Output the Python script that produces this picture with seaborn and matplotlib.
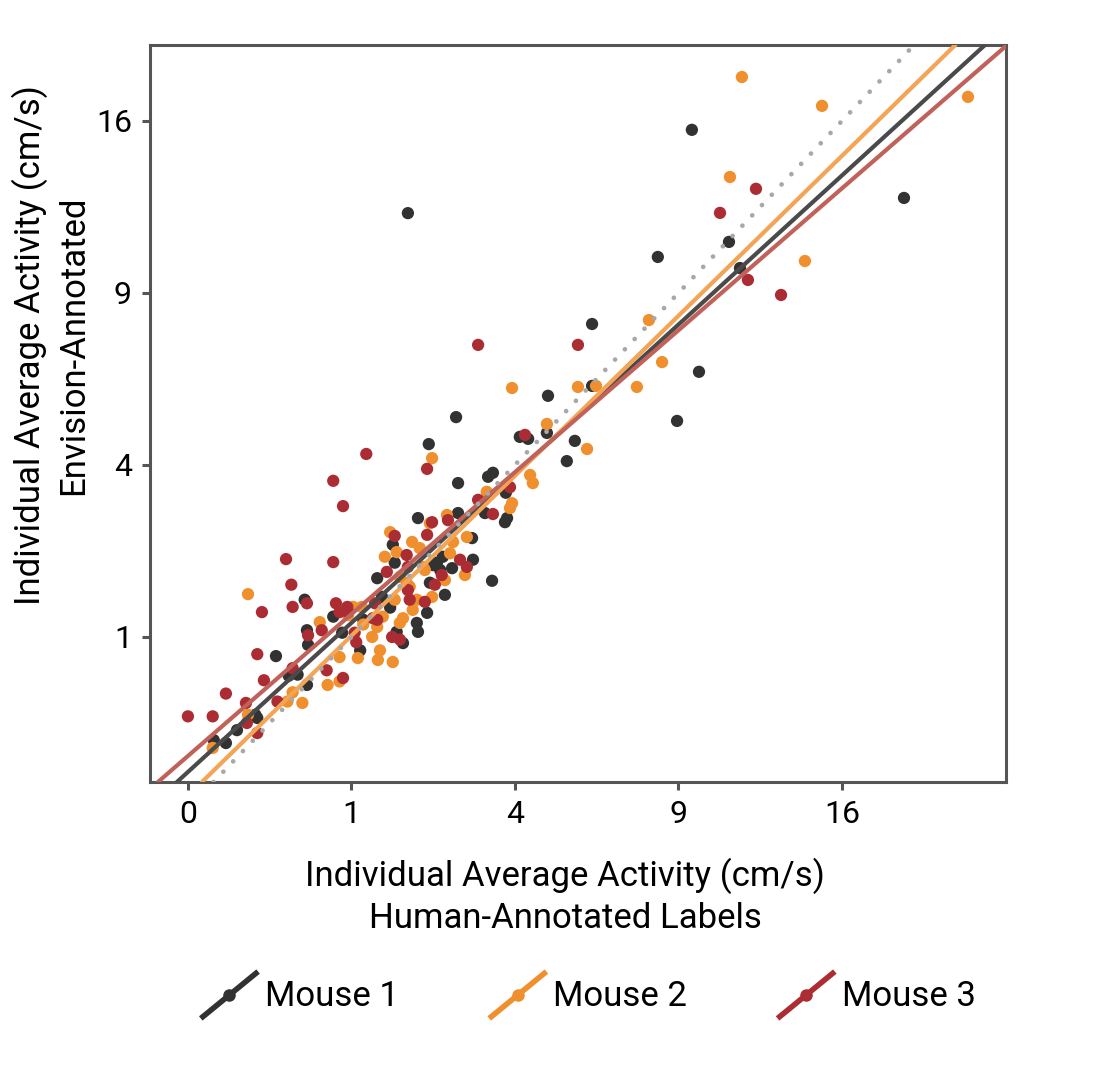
import matplotlib

matplotlib.use("Agg")
import matplotlib.pyplot as plt
import numpy as np
import pandas as pd
import seaborn as sns
from matplotlib.legend_handler import HandlerBase
from matplotlib.lines import Line2D

# values in cm/s
m1_human = [1.81, 9.50, 19.18, 8.26, 10.95, 11.40, 6.11, 9.77, 8.95, 4.85, 2.69, 2.17, 5.37, 5.60, 6.11,
            4.12, 4.33, 4.82, 2.73, 3.37, 3.48, 3.78, 3.81, 2.73, 3.76, 3.46, 1.98, 0.51, 0.53, 0.29,
            0.54, 0.45, 0.18, 0.09, 0.054, 0.53, 0.17, 1.34, 1.41, 1.53, 1.60, 1.57, 0.79, 0.89, 1.11,
            1.98, 1.73, 1.96, 1.63, 2.14, 2.25, 2.43, 2.61, 3.04, 3.02, 2.47, 2.19, 1.15, 2.38, 0.38, 0.025,
            3.30, 2.32]
m1_envision = [12.0, 15.59, 12.62, 10.30, 10.87, 9.89, 7.95, 6.46, 5.09, 5.77, 5.19, 4.50, 4.09, 4.58, 6.05,
               4.68, 4.63, 4.78, 3.59, 3.73, 3.82, 3.38, 2.86, 2.96, 2.78, 1.76, 2.86, 1.48, 1.08, 0.79,
               0.91, 0.61, 0.28, 0.21, 0.147, 0.52, 0.30, 1.80, 1.52, 1.37, 2.05, 2.36, 1.25, 1.05, 0.85,
               1.06, 0.93, 1.17, 1.06, 1.30, 2.01, 2.15, 1.96, 2.10, 2.48, 1.55, 1.73, 1.21, 1.93, 0.60, 0.16,
               2.96, 2.05]

m2_human = [11.48, 15.04, 22.76, 10.99, 14.24, 7.95, 8.41, 7.54, 5.69, 6.23, 3.93, 4.82, 5.96, 2.23, 4.38,
            4.45, 3.93, 3.88, 3.34, 2.51, 0.135, 0.49, 0.023, 0.135, 0.37, 0.41, 0.65, 1.08, 1.35, 1.57,
            0.73, 0.86, 1.53, 1.88, 1.63, 2.10, 1.73, 1.96, 1.15, 1.34, 2.19, 2.63, 2.57, 2.87, 2.47,
            2.07, 1.79, 1.89, 1.68, 1.42, 1.27, 1.60, 2.23, 1.38, 1.13, 0.96, 2.91,
            1.84, 1.02, 0.86, 2.01, 1.45, 1.68]
m2_envision = [18.11, 16.71, 17.14, 13.50, 10.15, 8.08, 6.75, 6.02, 6.02, 6.05, 5.99, 5.01, 4.38, 4.16, 3.77,
               3.59, 3.16, 3.06, 3.40, 2.92, 1.56, 0.38, 0.126, 0.30, 0.39, 0.46, 1.18, 0.77, 0.75, 0.73,
               0.52, 0.55, 2.59, 2.41, 2.23, 1.93, 1.23, 1.48, 1.15, 1.12, 2.76, 2.41, 2.21, 1.85, 1.77,
               1.98, 1.73, 1.34, 1.17, 1.25, 1.00, 1.48, 1.52, 0.85, 1.38, 1.27, 2.50,
               1.67, 1.38, 0.78, 2.30, 2.15, 1.82]

m3_human = [12.07, 10.59, 11.73, 13.16, 3.15, 5.69, 2.14, 3.88, 3.48, 4.25, 1.19, 0.79, 0.90, 0.79, 0.53,
            0.36, 0.40, 0.205, 0.41, 0.18, 0.054, 0.0, 0.023, 0.126, 0.216, 0.30, 0.18, 0.13, 0.41, 0.72,
            0.90, 0.54, 0.86, 0.95, 1.06, 1.48, 1.79, 1.56, 1.28, 2.28, 2.10, 2.53, 1.60, 2.14, 2.77,
            2.91, 2.41, 1.84, 1.34, 0.96, 0.82,
            2.23, 3.15, 1.31, 0.67, 1.68, 1.04, 1.81, 1.81]
m3_envision = [13.0, 12.01, 9.46, 8.93, 7.28, 7.28, 3.91, 3.50, 2.94, 4.73, 4.26, 3.64, 3.10, 2.06, 1.43,
               2.11, 1.70, 1.31, 1.38, 0.81, 0.45, 0.29, 0.29, 0.38, 0.56, 0.39, 0.195, 0.25, 0.67, 0.65,
               0.58, 1.02, 1.31, 1.38, 0.94, 1.90, 2.18, 1.00, 1.23, 1.70, 1.45, 2.82, 2.52, 2.54, 2.10,
               1.98, 1.85, 1.48, 1.21, 1.31, 1.43,
               2.78, 3.23, 1.43, 1.08, 0.97, 1.05, 1.98, 1.62]

mice = ["Mouse 1", "Mouse 2", "Mouse 3"]
# regression fits in sqrt space: sqrt(envision) = a + b * sqrt(human)
fit_intercept = [0.215, 0.077, 0.308]
fit_slope = [0.867, 0.930, 0.825]

ticks = [0, 1, 4, 9, 16]

point_colors = ["#323232", "#ef8f2e", "#ab2d33"]
line_colors = ["#4a4a4a", "#f3a455", "#c0625a"]


def fwd(v):
    return np.sign(v) * np.sqrt(np.abs(v))


def inv(v):
    return np.sign(v) * v ** 2


class DiagonalHandler(HandlerBase):
    def create_artists(self, legend, orig_handle, xdescent, ydescent, width, height, fontsize, trans):
        x0, y0 = -xdescent, -ydescent
        line = Line2D([x0, x0 + width], [y0, y0 + height], color=orig_handle.get_color(),
                      lw=orig_handle.get_linewidth(), solid_capstyle="butt")
        dot = Line2D([x0 + width / 2], [y0 + height / 2], marker="o", lw=0,
                     ms=orig_handle.get_markersize(), color=orig_handle.get_markerfacecolor())
        line.set_transform(trans)
        dot.set_transform(trans)
        return [line, dot]


df = pd.concat([
    pd.DataFrame({"human": m1_human, "envision": m1_envision, "mouse": mice[0]}),
    pd.DataFrame({"human": m2_human, "envision": m2_envision, "mouse": mice[1]}),
    pd.DataFrame({"human": m3_human, "envision": m3_envision, "mouse": mice[2]}),
], ignore_index=True)

sns.set_style("white")
plt.rcParams["font.family"] = ["Roboto", "DejaVu Sans"]
plt.rcParams["text.color"] = "black"
plt.rcParams["axes.labelcolor"] = "black"
plt.rcParams["xtick.labelcolor"] = "black"
plt.rcParams["ytick.labelcolor"] = "black"

fig = plt.figure(figsize=(10.94, 10.68), dpi=100)
ax = fig.add_axes([0.1371, 0.2678, 0.7824, 0.6901])
ax.set_xscale("function", functions=(fwd, inv))
ax.set_yscale("function", functions=(fwd, inv))

sns.scatterplot(data=df, x="human", y="envision", hue="mouse", palette=point_colors,
                s=78, linewidth=0, legend=False, ax=ax, zorder=2)

ax.set_xlim(-0.0538, 25.03)
ax.set_ylim(0.0246, 19.73)

for a, b, c in zip(fit_intercept, fit_slope, line_colors):
    ax.axline((0, inv(a)), (16, inv(a + 4 * b)), color=c, lw=3.0, zorder=3)
ax.axline((1, 1), (16, 16), color="#a8a8a8", lw=3.4, linestyle=(0, (0.01, 3.0)),
          dash_capstyle="round", zorder=3)

ax.set_xticks(ticks)
ax.set_xticklabels([str(t) for t in ticks])
ax.set_yticks(ticks[1:])
ax.set_yticklabels([str(t) for t in ticks[1:]])
ax.tick_params(axis="both", direction="out", length=6, width=2.2, color="#555555",
               labelsize=23, pad=7, bottom=True, left=True)
for sp in ax.spines.values():
    sp.set_color("#555555")
    sp.set_linewidth(2.2)

ax.set_xlabel("Individual Average Activity (cm/s)\nHuman-Annotated Labels", fontsize=25,
              va="center", linespacing=1.34)
ax.xaxis.set_label_coords(0.485, -0.155)
ax.set_ylabel("Individual Average Activity (cm/s)\nEnvision-Annotated", fontsize=25,
              va="center", linespacing=1.34)
ax.yaxis.set_label_coords(-0.1157, 0.593)

handles = [Line2D([], [], color=c, lw=4, marker="o", ms=8, markerfacecolor=c)
           for c in point_colors]
ax.legend(handles, mice, handler_map={Line2D: DiagonalHandler()}, ncol=3, frameon=False,
          loc="center", bbox_to_anchor=(0.512, -0.289), fontsize=25, handlelength=1.65,
          handleheight=1.7, handletextpad=0.2, columnspacing=2.6)

plt.savefig("out.png", dpi=100)
plt.close()
